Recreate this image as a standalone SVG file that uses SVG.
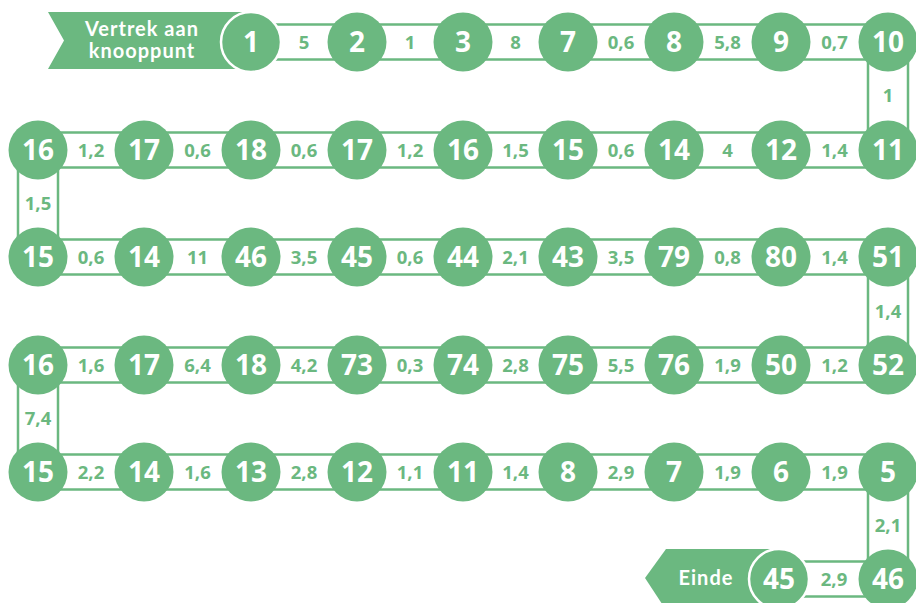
<svg xmlns="http://www.w3.org/2000/svg" width="916" height="603" viewBox="0 0 916 603">
<style>
.c{fill:#6bb880}
.cw{fill:#6bb880;stroke:#fff;stroke-width:2.5}
.n{fill:#fff;font-family:"Open Sans","Liberation Sans",sans-serif;font-weight:700;font-size:28px;text-anchor:middle}
.k{fill:#fff;stroke:#6bb880;stroke-width:2.5}
.l{fill:#6bb880;font-family:"Open Sans","Liberation Sans",sans-serif;font-weight:700;font-size:18.5px;text-anchor:middle}
.b{fill:#fff;font-family:Lato,"Liberation Sans",sans-serif;font-weight:700;font-size:20px;letter-spacing:1px;text-anchor:middle}
</style>
<rect width="916" height="603" fill="#fff"/>
<g id="connectors">
<rect class="k" x="251" y="24.5" width="106" height="35"/>
<rect class="k" x="357" y="24.5" width="106" height="35"/>
<rect class="k" x="463" y="24.5" width="105" height="35"/>
<rect class="k" x="568" y="24.5" width="106" height="35"/>
<rect class="k" x="674" y="24.5" width="107" height="35"/>
<rect class="k" x="781" y="24.5" width="107" height="35"/>
<rect class="k" x="868" y="42" width="40" height="108"/>
<rect class="k" x="38" y="132.5" width="106" height="35"/>
<rect class="k" x="144" y="132.5" width="107" height="35"/>
<rect class="k" x="251" y="132.5" width="106" height="35"/>
<rect class="k" x="357" y="132.5" width="106" height="35"/>
<rect class="k" x="463" y="132.5" width="105" height="35"/>
<rect class="k" x="568" y="132.5" width="106" height="35"/>
<rect class="k" x="674" y="132.5" width="107" height="35"/>
<rect class="k" x="781" y="132.5" width="107" height="35"/>
<rect class="k" x="18" y="150" width="40" height="107"/>
<rect class="k" x="38" y="239.5" width="106" height="35"/>
<rect class="k" x="144" y="239.5" width="107" height="35"/>
<rect class="k" x="251" y="239.5" width="106" height="35"/>
<rect class="k" x="357" y="239.5" width="106" height="35"/>
<rect class="k" x="463" y="239.5" width="105" height="35"/>
<rect class="k" x="568" y="239.5" width="106" height="35"/>
<rect class="k" x="674" y="239.5" width="107" height="35"/>
<rect class="k" x="781" y="239.5" width="107" height="35"/>
<rect class="k" x="868" y="257" width="40" height="108"/>
<rect class="k" x="38" y="347.5" width="106" height="35"/>
<rect class="k" x="144" y="347.5" width="107" height="35"/>
<rect class="k" x="251" y="347.5" width="106" height="35"/>
<rect class="k" x="357" y="347.5" width="106" height="35"/>
<rect class="k" x="463" y="347.5" width="105" height="35"/>
<rect class="k" x="568" y="347.5" width="106" height="35"/>
<rect class="k" x="674" y="347.5" width="107" height="35"/>
<rect class="k" x="781" y="347.5" width="107" height="35"/>
<rect class="k" x="18" y="365" width="40" height="107"/>
<rect class="k" x="38" y="454.5" width="106" height="35"/>
<rect class="k" x="144" y="454.5" width="107" height="35"/>
<rect class="k" x="251" y="454.5" width="106" height="35"/>
<rect class="k" x="357" y="454.5" width="106" height="35"/>
<rect class="k" x="463" y="454.5" width="105" height="35"/>
<rect class="k" x="568" y="454.5" width="106" height="35"/>
<rect class="k" x="674" y="454.5" width="107" height="35"/>
<rect class="k" x="781" y="454.5" width="107" height="35"/>
<rect class="k" x="868" y="472" width="40" height="107"/>
<rect class="k" x="779" y="561.5" width="109" height="35"/>
<text class="l" x="304" y="48.5">5</text>
<text class="l" x="410" y="48.5">1</text>
<text class="l" x="515.5" y="48.5">8</text>
<text class="l" x="621" y="48.5">0,6</text>
<text class="l" x="727.5" y="48.5">5,8</text>
<text class="l" x="834.5" y="48.5">0,7</text>
<text class="l" x="888" y="102">1</text>
<text class="l" x="91" y="156.5">1,2</text>
<text class="l" x="197.5" y="156.5">0,6</text>
<text class="l" x="304" y="156.5">0,6</text>
<text class="l" x="410" y="156.5">1,2</text>
<text class="l" x="515.5" y="156.5">1,5</text>
<text class="l" x="621" y="156.5">0,6</text>
<text class="l" x="727.5" y="156.5">4</text>
<text class="l" x="834.5" y="156.5">1,4</text>
<text class="l" x="38" y="210">1,5</text>
<text class="l" x="91" y="263.5">0,6</text>
<text class="l" x="197.5" y="263.5">11</text>
<text class="l" x="304" y="263.5">3,5</text>
<text class="l" x="410" y="263.5">0,6</text>
<text class="l" x="515.5" y="263.5">2,1</text>
<text class="l" x="621" y="263.5">3,5</text>
<text class="l" x="727.5" y="263.5">0,8</text>
<text class="l" x="834.5" y="263.5">1,4</text>
<text class="l" x="888" y="317.5">1,4</text>
<text class="l" x="91" y="371.5">1,6</text>
<text class="l" x="197.5" y="371.5">6,4</text>
<text class="l" x="304" y="371.5">4,2</text>
<text class="l" x="410" y="371.5">0,3</text>
<text class="l" x="515.5" y="371.5">2,8</text>
<text class="l" x="621" y="371.5">5,5</text>
<text class="l" x="727.5" y="371.5">1,9</text>
<text class="l" x="834.5" y="371.5">1,2</text>
<text class="l" x="38" y="425">7,4</text>
<text class="l" x="91" y="478.5">2,2</text>
<text class="l" x="197.5" y="478.5">1,6</text>
<text class="l" x="304" y="478.5">2,8</text>
<text class="l" x="410" y="478.5">1,1</text>
<text class="l" x="515.5" y="478.5">1,4</text>
<text class="l" x="621" y="478.5">2,9</text>
<text class="l" x="727.5" y="478.5">1,9</text>
<text class="l" x="834.5" y="478.5">1,9</text>
<text class="l" x="888" y="532">2,1</text>
<text class="l" x="834" y="585.5">2,9</text>
</g>
<g id="start">
<polygon class="c" points="48,12 251,12 251,69 48,69 64,40.5"/>
<text class="b" x="142" y="36">Vertrek aan</text>
<text class="b" x="142" y="58">knooppunt</text>
</g>
<g id="end">
<polygon class="c" points="645,578 666,549 779,549 779,610 666,610"/>
<text class="b" x="706" y="585">Einde</text>
</g>
<g id="n1"><circle class="cw" cx="251" cy="42" r="30"/><text class="n" x="251" y="52">1</text></g>
<g id="n2"><circle class="c" cx="357" cy="42" r="29.5"/><text class="n" x="357" y="52">2</text></g>
<g id="n3"><circle class="c" cx="463" cy="42" r="29.5"/><text class="n" x="463" y="52">3</text></g>
<g id="n7a"><circle class="c" cx="568" cy="42" r="29.5"/><text class="n" x="568" y="52">7</text></g>
<g id="n8a"><circle class="c" cx="674" cy="42" r="29.5"/><text class="n" x="674" y="52">8</text></g>
<g id="n9"><circle class="c" cx="781" cy="42" r="29.5"/><text class="n" x="781" y="52">9</text></g>
<g id="n10"><circle class="c" cx="888" cy="42" r="29.5"/><text class="n" x="888" y="52">10</text></g>

<g id="n16a"><circle class="c" cx="38" cy="150" r="29.5"/><text class="n" x="38" y="160">16</text></g>
<g id="n17a"><circle class="c" cx="144" cy="150" r="29.5"/><text class="n" x="144" y="160">17</text></g>
<g id="n18a"><circle class="c" cx="251" cy="150" r="29.5"/><text class="n" x="251" y="160">18</text></g>
<g id="n17b"><circle class="c" cx="357" cy="150" r="29.5"/><text class="n" x="357" y="160">17</text></g>
<g id="n16b"><circle class="c" cx="463" cy="150" r="29.5"/><text class="n" x="463" y="160">16</text></g>
<g id="n15a"><circle class="c" cx="568" cy="150" r="29.5"/><text class="n" x="568" y="160">15</text></g>
<g id="n14a"><circle class="c" cx="674" cy="150" r="29.5"/><text class="n" x="674" y="160">14</text></g>
<g id="n12a"><circle class="c" cx="781" cy="150" r="29.5"/><text class="n" x="781" y="160">12</text></g>
<g id="n11a"><circle class="c" cx="888" cy="150" r="29.5"/><text class="n" x="888" y="160">11</text></g>

<g id="n15b"><circle class="c" cx="38" cy="257" r="29.5"/><text class="n" x="38" y="267">15</text></g>
<g id="n14b"><circle class="c" cx="144" cy="257" r="29.5"/><text class="n" x="144" y="267">14</text></g>
<g id="n46a"><circle class="c" cx="251" cy="257" r="29.5"/><text class="n" x="251" y="267">46</text></g>
<g id="n45a"><circle class="c" cx="357" cy="257" r="29.5"/><text class="n" x="357" y="267">45</text></g>
<g id="n44"><circle class="c" cx="463" cy="257" r="29.5"/><text class="n" x="463" y="267">44</text></g>
<g id="n43"><circle class="c" cx="568" cy="257" r="29.5"/><text class="n" x="568" y="267">43</text></g>
<g id="n79"><circle class="c" cx="674" cy="257" r="29.5"/><text class="n" x="674" y="267">79</text></g>
<g id="n80"><circle class="c" cx="781" cy="257" r="29.5"/><text class="n" x="781" y="267">80</text></g>
<g id="n51"><circle class="c" cx="888" cy="257" r="29.5"/><text class="n" x="888" y="267">51</text></g>

<g id="n16c"><circle class="c" cx="38" cy="365" r="29.5"/><text class="n" x="38" y="375">16</text></g>
<g id="n17c"><circle class="c" cx="144" cy="365" r="29.5"/><text class="n" x="144" y="375">17</text></g>
<g id="n18b"><circle class="c" cx="251" cy="365" r="29.5"/><text class="n" x="251" y="375">18</text></g>
<g id="n73"><circle class="c" cx="357" cy="365" r="29.5"/><text class="n" x="357" y="375">73</text></g>
<g id="n74"><circle class="c" cx="463" cy="365" r="29.5"/><text class="n" x="463" y="375">74</text></g>
<g id="n75"><circle class="c" cx="568" cy="365" r="29.5"/><text class="n" x="568" y="375">75</text></g>
<g id="n76"><circle class="c" cx="674" cy="365" r="29.5"/><text class="n" x="674" y="375">76</text></g>
<g id="n50"><circle class="c" cx="781" cy="365" r="29.5"/><text class="n" x="781" y="375">50</text></g>
<g id="n52"><circle class="c" cx="888" cy="365" r="29.5"/><text class="n" x="888" y="375">52</text></g>

<g id="n15c"><circle class="c" cx="38" cy="472" r="29.5"/><text class="n" x="38" y="482">15</text></g>
<g id="n14c"><circle class="c" cx="144" cy="472" r="29.5"/><text class="n" x="144" y="482">14</text></g>
<g id="n13"><circle class="c" cx="251" cy="472" r="29.5"/><text class="n" x="251" y="482">13</text></g>
<g id="n12b"><circle class="c" cx="357" cy="472" r="29.5"/><text class="n" x="357" y="482">12</text></g>
<g id="n11b"><circle class="c" cx="463" cy="472" r="29.5"/><text class="n" x="463" y="482">11</text></g>
<g id="n8b"><circle class="c" cx="568" cy="472" r="29.5"/><text class="n" x="568" y="482">8</text></g>
<g id="n7b"><circle class="c" cx="674" cy="472" r="29.5"/><text class="n" x="674" y="482">7</text></g>
<g id="n6"><circle class="c" cx="781" cy="472" r="29.5"/><text class="n" x="781" y="482">6</text></g>
<g id="n5"><circle class="c" cx="888" cy="472" r="29.5"/><text class="n" x="888" y="482">5</text></g>

<g id="n45b"><circle class="cw" cx="779" cy="579" r="30"/><text class="n" x="779" y="589">45</text></g>
<g id="n46b"><circle class="c" cx="888" cy="579" r="29.5"/><text class="n" x="888" y="589">46</text></g>
</svg>
